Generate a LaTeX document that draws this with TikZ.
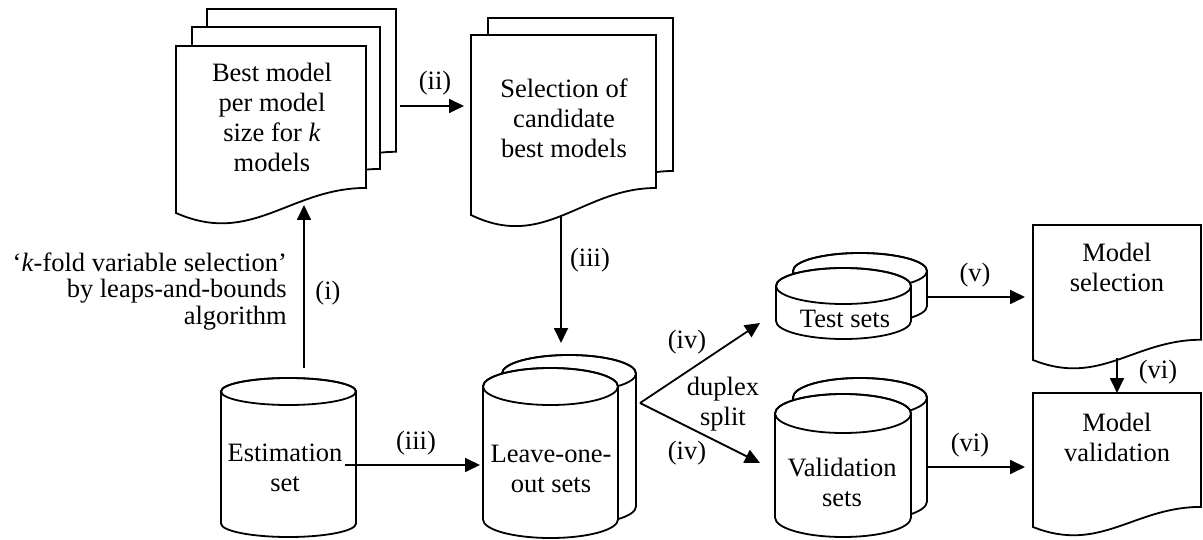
\documentclass[tikz,border=0pt]{standalone}
\usepackage{fontspec}
\setmainfont{Liberation Serif}
\usetikzlibrary{arrows.meta}
\tikzset{
  shp/.style={line width=1.8pt, fill=white, line join=miter},
  plainline/.style={line width=1.8pt},
  arr/.style={line width=1.8pt, -{Triangle[length=15pt,width=14pt]}},
  txt/.style={align=center, inner sep=0pt, font=\fontsize{26.5}{30}\selectfont},
  lbl/.style={inner sep=0pt, font=\fontsize{26.5}{30}\selectfont},
}
% document shape: x0, ytop, x1, ybottom-left
\newcommand{\docshape}[4]{\draw[shp] (#1,#4) -- (#1,#2) -- (#3,#2) -- (#3,{#4-0.15*(#4-#2)}) .. controls ({#1+0.6*(#3-#1)},{#4-0.15*(#4-#2)}) and ({#1+0.4*(#3-#1)},{#4+0.2*(#4-#2)}) .. (#1,#4) -- cycle;}
% cylinder: cx, cy top, cy bottom, rx, ry
\newcommand{\cylshape}[5]{%
  \draw[shp] ({#1-#4},#2) -- ({#1-#4},#3) arc[start angle=180,end angle=0,x radius=#4,y radius=#5] -- ({#1+#4},#2) arc[start angle=0,end angle=-180,x radius=#4,y radius=#5] -- cycle;
  \draw[plainline] (#1,#2) ellipse[x radius=#4, y radius=#5];}
\begin{document}
\begin{tikzpicture}[x=1pt,y=-1pt]
\useasboundingbox (0,0) rectangle (1203,540);
% ---- document stacks
\docshape{207}{9}{396}{177}
\docshape{192}{27}{380}{194}
\docshape{176}{46}{366}{213}
\docshape{488}{18}{673}{198}
\docshape{471}{35}{656}{215}
\docshape{1033}{225}{1201}{360}
\docshape{1033}{393}{1201}{527}
% ---- cylinders
\cylshape{288.5}{391.5}{523.5}{67.5}{13.5}
\cylshape{569}{373.5}{506.5}{67}{18.5}
\cylshape{550.5}{386.5}{519.5}{67.5}{18.5}
\cylshape{860}{271}{306}{67}{18}
\cylshape{843.5}{286}{321}{67.5}{18}
\cylshape{860}{397.5}{501.5}{67}{19.5}
\cylshape{843}{413.5}{517.5}{68}{19.5}
% ---- texts
\node[txt] (bm) at (272,117) {Best model\\per model\\size for \textit{k}\\models};
\node[txt] (sel) at (564,118) {Selection of\\candidate\\best models};
\node[txt] (est) at (285,468) {Estimation\\set};
\node[txt] (loo) at (551,469) {Leave-one-\\out sets};
\node[txt] (test) at (845,319) {Test sets};
\node[txt] (val) at (842,482) {Validation\\sets};
\node[txt] (msel) at (1117,267.5) {Model\\selection};
\node[txt] (mval) at (1117,437.5) {Model\\validation};
\node[txt, align=right, anchor=east, font=\fontsize{26.5}{26.7}\selectfont] (kfold) at (287,291.5) {`\textit{k}-fold variable selection'\\by leaps-and-bounds\\algorithm};
% ---- connector end points
\coordinate (estTop) at (304,368);
\coordinate (bmBot) at (304,205);
\coordinate (bmRight) at (400,106);
\coordinate (selLeft) at (464,106);
\coordinate (selBot) at (561,217);
\coordinate (looTop) at (561,343);
\coordinate (estMid) at (345,465);
\coordinate (looLeft) at (480,465);
\coordinate (looRight) at (640,403);
\coordinate (testIn) at (760,323);
\coordinate (valIn) at (760,463);
\coordinate (testOut) at (927,297);
\coordinate (mselIn) at (1025,297);
\coordinate (valOut) at (927,467);
\coordinate (mvalIn) at (1025,467);
\coordinate (mselBot) at (1117,358);
\coordinate (mvalTop) at (1117,393);
% ---- connectors
\draw[arr] (estTop) -- (bmBot);
\draw[arr] (bmRight) -- (selLeft);
\draw[arr] (selBot) -- (looTop);
\draw[arr] (estMid) -- (looLeft);
\draw[arr] (looRight) -- (testIn);
\draw[arr] (looRight) -- (valIn);
\draw[arr] (testOut) -- (mselIn);
\draw[arr] (valOut) -- (mvalIn);
\draw[arr] (mselBot) -- (mvalTop);
% ---- labels
\node[lbl] (l1) at (328,293) {(i)};
\node[lbl] (l2) at (435,83) {(ii)};
\node[lbl] (l3a) at (590,260) {(iii)};
\node[lbl] (l3b) at (416,443) {(iii)};
\node[lbl] (l4a) at (687,342) {(iv)};
\node[lbl] (l4b) at (687,453) {(iv)};
\node[txt] (dup) at (723,404) {duplex\\split};
\node[lbl] (l5) at (975,275) {(v)};
\node[lbl] (l6a) at (970,445) {(vi)};
\node[lbl] (l6b) at (1158,372) {(vi)};
\end{tikzpicture}
\end{document}
